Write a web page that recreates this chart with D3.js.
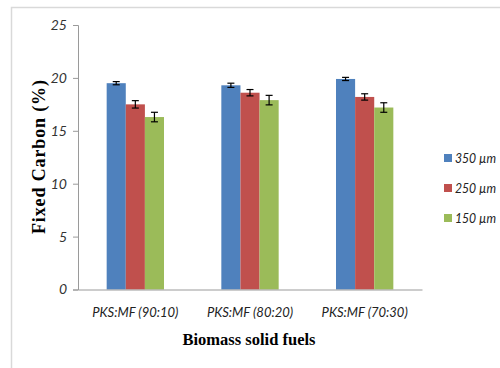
<!DOCTYPE html>
<html>
<head>
<meta charset="utf-8">
<script src="https://cdn.jsdelivr.net/npm/d3@7"></script>
<style>
  html, body { margin: 0; padding: 0; background: #fff; }
  svg { display: block; }
</style>
</head>
<body>
<div id="chart"></div>
<script>
// Fixed carbon content of PKS:MF blends by particle size
const categories = ["PKS:MF (90:10)", "PKS:MF (80:20)", "PKS:MF (70:30)"];
const seriesNames = ["350 \u00B5m", "250 \u00B5m", "150 \u00B5m"];
const values350 = [19.5, 19.3, 19.9];
const values250 = [17.5, 18.6, 18.2];
const values150 = [16.3, 17.9, 17.2];
const errors350 = [0.15, 0.2, 0.15];
const errors250 = [0.35, 0.3, 0.3];
const errors150 = [0.45, 0.45, 0.45];
const yTicks = [0, 5, 10, 15, 20, 25];
const colors = ["#4F81BD", "#C0504D", "#9BBB59"];

const W = 500, H = 368;
const margin = { left: 78, right: 78, top: 25, bottom: 78.5 };

const svg = d3.select("#chart").append("svg")
  .attr("width", W).attr("height", H);

// outer chart frame
svg.append("rect")
  .attr("x", 11.5).attr("y", 7.5)
  .attr("width", W + 10).attr("height", H + 10)
  .attr("fill", "#fff").attr("stroke", "#d9d9d9").attr("stroke-width", 1.5);

const x0 = d3.scaleBand().domain(categories)
  .range([margin.left, W - margin.right]).paddingInner(0.5).paddingOuter(0.25);
const x1 = d3.scaleBand().domain(seriesNames).range([0, x0.bandwidth()]);
const y = d3.scaleLinear().domain([0, 25]).range([H - margin.bottom, margin.top]);

const series = [
  { name: seriesNames[0], values: values350, errs: errors350, color: colors[0] },
  { name: seriesNames[1], values: values250, errs: errors250, color: colors[1] },
  { name: seriesNames[2], values: values150, errs: errors150, color: colors[2] }
];

// y axis
const yAxis = svg.append("g")
  .attr("transform", `translate(${margin.left},0)`)
  .call(d3.axisLeft(y).tickValues(yTicks).tickSize(5).tickPadding(6).tickFormat(d3.format("d")));
yAxis.select(".domain").attr("stroke", "#9a9a9a");
yAxis.selectAll(".tick line").attr("stroke", "#9a9a9a");
yAxis.selectAll(".tick text")
  .attr("font-family", "Lato, 'Open Sans', sans-serif")
  .attr("font-style", "italic").attr("font-size", 14).attr("fill", "#333");

// bars
series.forEach(s => {
  const g = svg.append("g");
  g.selectAll("rect").data(categories).join("rect")
    .attr("x", (c) => x0(c) + x1(s.name))
    .attr("y", (c, i) => y(s.values[i]))
    .attr("width", x1.bandwidth())
    .attr("height", (c, i) => y(0) - y(s.values[i]))
    .attr("fill", s.color);
  // error bars
  const eb = g.selectAll("g.err").data(categories).join("g").attr("class", "err");
  const cx = (c) => x0(c) + x1(s.name) + x1.bandwidth() / 2;
  eb.append("line")
    .attr("x1", cx).attr("x2", cx)
    .attr("y1", (c, i) => y(s.values[i] + s.errs[i]))
    .attr("y2", (c, i) => y(s.values[i] - s.errs[i]));
  eb.append("line")
    .attr("x1", c => cx(c) - 3.5).attr("x2", c => cx(c) + 3.5)
    .attr("y1", (c, i) => y(s.values[i] + s.errs[i]))
    .attr("y2", (c, i) => y(s.values[i] + s.errs[i]));
  eb.append("line")
    .attr("x1", c => cx(c) - 3.5).attr("x2", c => cx(c) + 3.5)
    .attr("y1", (c, i) => y(s.values[i] - s.errs[i]))
    .attr("y2", (c, i) => y(s.values[i] - s.errs[i]));
  eb.selectAll("line").attr("stroke", "#000").attr("stroke-width", 1.2);
});

// x axis
const xAxis = svg.append("g")
  .attr("transform", `translate(0,${y(0)})`)
  .call(d3.axisBottom(x0).tickSize(0).tickPadding(18));
xAxis.select(".domain").attr("stroke", "#9a9a9a");
xAxis.selectAll(".tick text")
  .attr("font-family", "Lato, 'Open Sans', sans-serif")
  .attr("font-style", "italic").attr("font-size", 13).attr("fill", "#222");

// axis titles
svg.append("text")
  .attr("x", 249).attr("y", 345)
  .attr("text-anchor", "middle")
  .attr("font-family", "'Liberation Serif', 'Times New Roman', serif")
  .attr("font-weight", "bold").attr("font-size", 16.5).attr("fill", "#000")
  .attr("textLength", 133).attr("lengthAdjust", "spacing")
  .text("Biomass solid fuels");

svg.append("text")
  .attr("transform", "translate(45,157) rotate(-90)")
  .attr("text-anchor", "middle")
  .attr("font-family", "'Liberation Serif', 'Times New Roman', serif")
  .attr("font-weight", "bold").attr("font-size", 18).attr("fill", "#000")
  .attr("textLength", 154).attr("lengthAdjust", "spacing")
  .text("Fixed Carbon (%)");

// legend
const legend = svg.append("g").attr("transform", "translate(444,158)");
series.forEach((s, i) => {
  const row = legend.append("g").attr("transform", `translate(0,${i * 30})`);
  row.append("rect").attr("x", 0).attr("y", -4).attr("width", 8).attr("height", 8).attr("fill", s.color);
  row.append("text").attr("x", 11).attr("y", 5)
    .attr("font-family", "Lato, 'Open Sans', sans-serif")
    .attr("font-style", "italic").attr("font-size", 13.5).attr("fill", "#222")
    .attr("textLength", 41).attr("lengthAdjust", "spacingAndGlyphs")
    .text(s.name);
});
</script>
</body>
</html>
